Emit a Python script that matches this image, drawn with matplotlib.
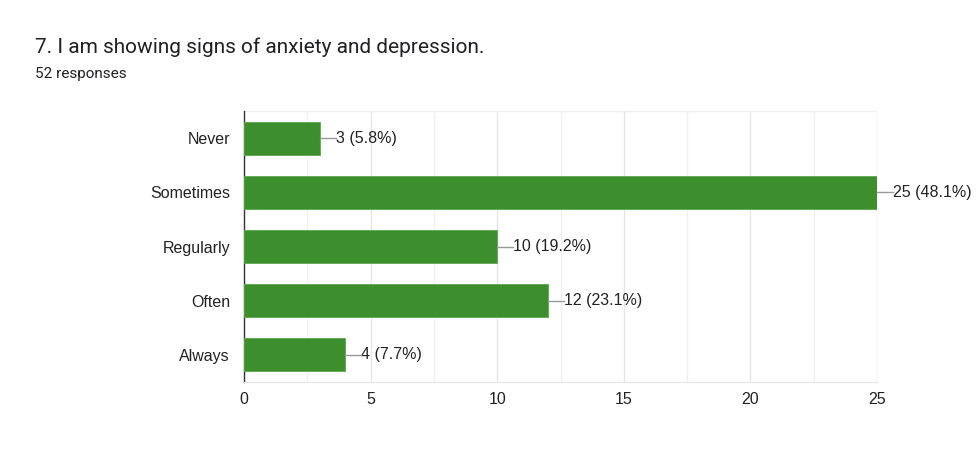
import matplotlib
matplotlib.use("Agg")
import matplotlib.pyplot as plt
from matplotlib.ticker import MultipleLocator

# datos
categorias = ["Never", "Sometimes", "Regularly", "Often", "Always"]
valores = [3, 25, 10, 12, 4]
porcentajes = ["5.8%", "48.1%", "19.2%", "23.1%", "7.7%"]

plt.rcParams['font.family'] = ['Liberation Sans', 'DejaVu Sans']

fig = plt.figure(figsize=(9.77, 4.62), dpi=100)
ax = fig.add_axes([0.2497, 0.1732, 0.648, 0.5865])

y = list(range(len(categorias)))
ax.barh(y, valores, height=0.61, color="#3d8f2e", edgecolor="#5aa84a", linewidth=0.6, zorder=3)

# etiquetas con su rayita gris
for yi, v, p in zip(y, valores, porcentajes):
    ax.plot([v, v + 0.62], [yi, yi], color="#999999", lw=1, zorder=4, clip_on=False)
    ax.text(v + 0.64, yi, f"{v} ({p})", va="center", ha="left", fontsize=11.5,
            color="#222222", clip_on=False)

ax.set_ylim(len(categorias) - 0.5, -0.5)
ax.set_xlim(0, 25)
ax.set_yticks(y)
ax.set_yticklabels(categorias)
ax.xaxis.set_major_locator(MultipleLocator(5))
ax.xaxis.set_minor_locator(MultipleLocator(2.5))
ax.grid(axis="x", which="major", color="#e6e6e6", lw=1, zorder=0)
ax.grid(axis="x", which="minor", color="#f0f0f0", lw=1, zorder=0)
ax.tick_params(axis="both", which="both", length=0, labelsize=11.5, colors="#222222", pad=7)
ax.tick_params(axis="y", pad=10)

for s in ["top", "right"]:
    ax.spines[s].set_visible(False)
ax.spines["bottom"].set_color("#e6e6e6")
ax.spines["left"].set_color("#333333")
ax.spines["left"].set_linewidth(1)
ax.axhline(-0.5, color="#eeeeee", lw=1, zorder=0)
ax.axvline(25, color="#eeeeee", lw=1, zorder=0)

fig.text(35 / 977, 1 - 47 / 462, "7. I am showing signs of anxiety and depression.",
         fontsize=15, color="#202124", va="center", ha="left", family=['Roboto', 'DejaVu Sans'])
fig.text(35 / 977, 1 - 74 / 462, "52 responses", fontsize=11, color="#202124",
         va="center", ha="left", family=['Roboto', 'DejaVu Sans'])

fig.savefig("out.png", dpi=100)
